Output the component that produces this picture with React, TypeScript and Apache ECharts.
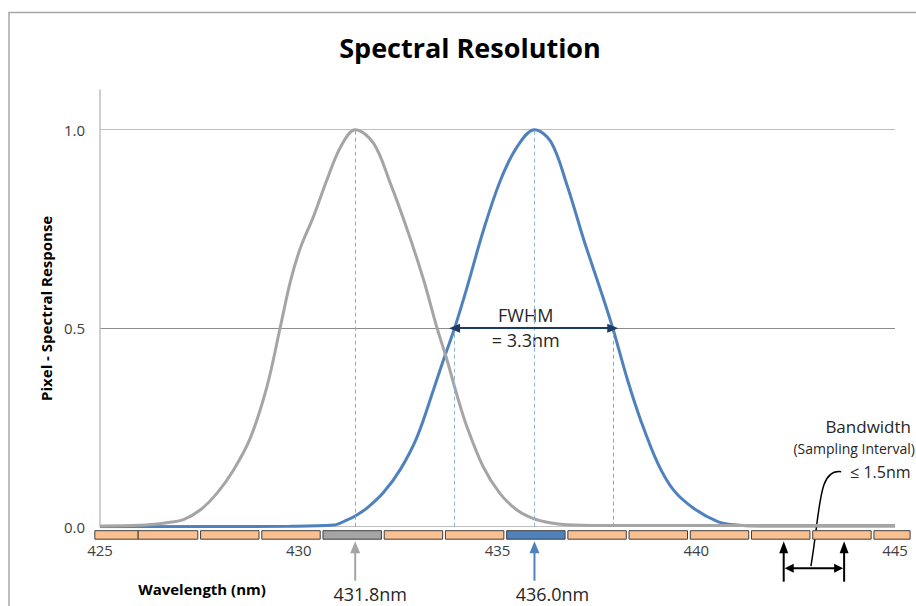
import React, { useEffect, useRef } from "react";
import * as echarts from "echarts";

// ---- data ----
const xTickMin = 425;
const xTickMax = 445;
const xTickStep = 5;

const grayX = [425.0, 426.01, 426.68, 427.1, 427.52, 427.94, 428.36, 428.78, 429.2, 429.53, 429.79, 430.04, 430.37, 430.71, 431.05, 431.42, 431.88, 432.3, 432.73, 433.14, 433.48, 433.73, 433.99, 434.23, 434.64, 435.06, 435.49, 435.89, 436.32, 436.75, 437.6, 445.0];
const grayY = [0.002, 0.0034, 0.01, 0.018, 0.042, 0.084, 0.143, 0.223, 0.353, 0.5, 0.618, 0.702, 0.781, 0.874, 0.956, 1.0, 0.966, 0.866, 0.748, 0.622, 0.5, 0.42, 0.328, 0.252, 0.151, 0.084, 0.042, 0.021, 0.01, 0.005, 0.003, 0.003];

const blueX = [425.0, 429.79, 430.87, 431.22, 431.42, 431.73, 432.13, 432.56, 432.98, 433.39, 433.64, 433.92, 434.24, 434.65, 435.08, 435.5, 435.93, 436.34, 436.76, 437.17, 437.59, 437.9, 438.27, 438.6, 439.03, 439.43, 439.94, 440.54, 440.94, 441.62, 445.0];
const blueY = [0.0, 0.001, 0.004, 0.017, 0.027, 0.048, 0.086, 0.145, 0.227, 0.345, 0.42, 0.5, 0.605, 0.748, 0.874, 0.958, 1.0, 0.97, 0.857, 0.723, 0.597, 0.5, 0.37, 0.269, 0.16, 0.092, 0.046, 0.013, 0.005, 0.002, 0.002];

// detector pixels (wavelength span each pixel covers)
const pixelStart = [424.87, 425.96, 427.53, 429.07, 430.61, 432.15, 433.69, 435.23, 436.77, 438.31, 439.85, 441.39, 442.93, 444.47];
const pixelEnd = [425.96, 427.46, 429.0, 430.54, 432.08, 433.62, 435.16, 436.7, 438.24, 439.78, 441.32, 442.86, 444.4, 445.38];
const pixelKind = ["o", "o", "o", "o", "g", "o", "o", "b", "o", "o", "o", "o", "o", "o"];

// annotation positions (nm / response)
const grayPeak = 431.42;
const bluePeak = 435.93;
const fwhmLeft = 433.92;
const fwhmRight = 437.9;
const halfMax = 0.5;
const bandLeft = 442.2;
const bandRight = 443.72;

const grayLabel = "431.8nm";
const blueLabel = "436.0nm";

const FONT = '"Open Sans", "Noto Sans", sans-serif';
const GRAY = "#a5a5a5";
const BLUE = "#4f81bd";
const NAVY = "#1f3a60";
const TXT = "#262626";

export default function App() {
  const ref = useRef<HTMLDivElement>(null);
  useEffect(() => {
    if (!ref.current) return;
    const chart = echarts.init(ref.current, undefined, { renderer: "svg" });
    const grayData = grayX.map((x, i) => [x, grayY[i]]);
    const blueData = blueX.map((x, i) => [x, blueY[i]]);
    const pixelData = pixelStart.map((s, i) => [s, pixelEnd[i], 0]);

    const kindFill: Record<string, string> = { o: "#fac090", g: "#a5a5a5", b: "#4f81bd" };

    chart.setOption({
      animation: false,
      title: {
        text: "Spectral Resolution",
        left: 465,
        top: 29,
        textAlign: "center",
        textStyle: { fontFamily: FONT, fontWeight: "bold", fontSize: 27, color: "#000" },
      },
      grid: { left: 100, right: 21, top: 90, bottom: 79.3, containLabel: false },
      xAxis: {
        type: "value",
        min: xTickMin,
        max: xTickMax,
        interval: xTickStep,
        axisLine: { show: false },
        axisTick: { show: false },
        splitLine: { show: false },
        axisLabel: { margin: 16, fontSize: 15, fontFamily: FONT, color: "#404040" },
      },
      yAxis: {
        type: "value",
        min: 0,
        max: 1.1,
        interval: 0.5,
        name: "Pixel - Spectral Response",
        nameLocation: "middle",
        nameGap: 44,
        nameRotate: 90,
        nameTextStyle: { fontFamily: FONT, fontWeight: "bold", fontSize: 15, color: "#000" },
        axisLine: { show: true, lineStyle: { color: "#bfbfbf", width: 1.5 } },
        axisTick: { show: false },
        axisLabel: {
          showMaxLabel: false,
          margin: 15,
          fontSize: 15,
          fontFamily: FONT,
          color: "#404040",
          formatter: (v: number) => (v > 1.05 ? "" : v.toFixed(1)),
        },
        splitLine: {
          show: true,
          showMaxLine: false,
          lineStyle: { color: ["#bfbfbf", "#8c8c8c", "#bfbfbf"], width: 1 },
        },
      },
      series: [
        {
          type: "line",
          name: "blue",
          data: blueData,
          smooth: 0.35,
          symbol: "none",
          lineStyle: { color: BLUE, width: 3 },
          z: 3,
          markLine: {
            silent: true,
            symbol: "none",
            label: { show: false },
            data: [
              [
                { coord: [bluePeak, 0], lineStyle: { color: "#8eb4e3", type: [4, 3], width: 1 } },
                { coord: [bluePeak, 1] },
              ],
              [
                { coord: [fwhmLeft, 0], lineStyle: { color: "#8eb4e3", type: [4, 3], width: 1 } },
                { coord: [fwhmLeft, halfMax] },
              ],
              [
                { coord: [fwhmRight, 0], lineStyle: { color: "#8fa4c0", type: [4, 3], width: 1 } },
                { coord: [fwhmRight, halfMax] },
              ],
              [
                { coord: [fwhmLeft, halfMax], symbol: "triangle", symbolSize: [9, 11], lineStyle: { color: NAVY, type: "solid", width: 2 } },
                { coord: [fwhmRight, halfMax], symbol: "triangle", symbolSize: [9, 11] },
              ],
            ],
          },
        },
        {
          type: "line",
          name: "gray",
          data: grayData,
          smooth: 0.35,
          symbol: "none",
          lineStyle: { color: GRAY, width: 3 },
          z: 4,
          markLine: {
            silent: true,
            symbol: "none",
            label: { show: false },
            data: [
              [
                { coord: [grayPeak, 0], lineStyle: { color: "#a6a6a6", type: [4, 3], width: 1 } },
                { coord: [grayPeak, 1] },
              ],
            ],
          },
        },
        {
          type: "custom",
          name: "pixels",
          data: pixelData,
          clip: false,
          encode: { x: [0, 1], y: 2 },
          renderItem: (params: any, api: any) => {
            const s = api.coord([api.value(0), 0]);
            const e = api.coord([api.value(1), 0]);
            const k = pixelKind[params.dataIndex];
            return {
              type: "rect",
              shape: { x: s[0], y: s[1] + 4, width: e[0] - s[0], height: 8.5 },
              style: { fill: kindFill[k], stroke: "#3f3f3f", lineWidth: 1 },
            };
          },
          z: 5,
        },
      ],
    });

    const px = (x: number, y: number) => chart.convertToPixel({ gridIndex: 0 }, [x, y]) as number[];
    const y0 = px(425, 0)[1];
    const gx = px(grayPeak, 0)[0];
    const bx = px(bluePeak, 0)[0];
    const fl = px(fwhmLeft, halfMax);
    const fr = px(fwhmRight, halfMax);
    const b1 = px(bandLeft, 0)[0];
    const b2 = px(bandRight, 0)[0];
    const bm = (b1 + b2) / 2;

    const upArrow = (x: number, color: string, tipY: number, endY: number, w: number, h: number, lw: number) => [
      { type: "line", shape: { x1: x, y1: tipY + h - 1, x2: x, y2: endY }, style: { stroke: color, lineWidth: lw }, silent: true },
      { type: "polygon", shape: { points: [[x, tipY], [x - w / 2, tipY + h], [x + w / 2, tipY + h]] }, style: { fill: color }, silent: true },
    ];

    const text = (t: string, x: number, y: number, size: number, align: string, opts: any = {}) => ({
      type: "text",
      x,
      y,
      silent: true,
      style: {
        text: t,
        fill: opts.fill || TXT,
        font: `${opts.weight || "normal"} ${size}px ${FONT}`,
        align,
        verticalAlign: "middle",
      },
    });

    const hy = y0 + 41.5;
    const graphics: any[] = [
      { type: "rect", z: -10, silent: true, shape: { x: 9, y: 12.5, width: 1400, height: 1400 }, style: { fill: "transparent", stroke: "#a6a6a6", lineWidth: 1.5 } },
      ...upArrow(gx, GRAY, y0 + 14.5, y0 + 54, 10, 12, 2),
      ...upArrow(bx, BLUE, y0 + 14.5, y0 + 54, 10, 12, 2),
      ...upArrow(b1, "#000", y0 + 14.5, y0 + 55, 9, 12, 2),
      ...upArrow(b2, "#000", y0 + 14.5, y0 + 55, 9, 12, 2),
      { type: "line", silent: true, shape: { x1: b1 + 6, y1: hy, x2: b2 - 6, y2: hy }, style: { stroke: "#000", lineWidth: 2 } },
      { type: "polygon", silent: true, shape: { points: [[b1 + 1, hy], [b1 + 10, hy - 4.5], [b1 + 10, hy + 4.5]] }, style: { fill: "#000" } },
      { type: "polygon", silent: true, shape: { points: [[b2 - 1, hy], [b2 - 10, hy - 4.5], [b2 - 10, hy + 4.5]] }, style: { fill: "#000" } },
      {
        type: "bezierCurve",
        silent: true,
        shape: { x1: bm - 3, y1: hy - 2, cpx1: bm + 7, cpy1: y0 - 20, cpx2: bm + 4, cpy2: y0 - 58, x2: b2 - 3, y2: y0 - 55 },
        style: { stroke: "#000", lineWidth: 1.5, fill: "none" },
      },
      text(grayLabel, gx + 15, y0 + 67, 18, "center"),
      text(blueLabel, bx + 18, y0 + 67, 18, "center"),
      text("FWHM", (fl[0] + fr[0]) / 2 - 8, fl[1] - 13, 18, "center"),
      text("= 3.3nm", (fl[0] + fr[0]) / 2 - 8, fl[1] + 12, 18, "center"),
      text("Wavelength (nm)", 202, y0 + 62, 15, "center", { weight: "bold", fill: "#000" }),
      text("Bandwidth", 911, y0 - 100, 17, "right"),
      text("(Sampling Interval)", 915, y0 - 78, 14, "right"),
      text("≤ 1.5nm", b2 + 6, y0 - 55, 16, "left"),
    ];
    chart.setOption({ graphic: graphics });

    return () => chart.dispose();
  }, []);
  return (
    <div
      ref={ref}
      style={{ position: "fixed", left: 0, top: 0, width: 916, height: 606, background: "#fff" }}
    />
  );
}
